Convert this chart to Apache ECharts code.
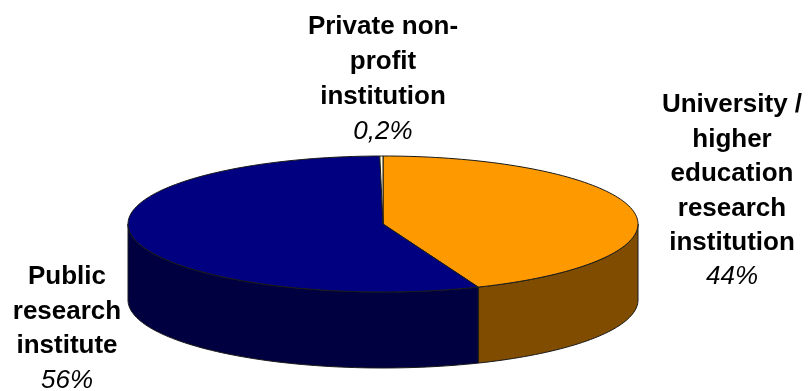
<!DOCTYPE html>
<html>
<head>
<meta charset="utf-8">
<script src="https://cdn.jsdelivr.net/npm/echarts@6/dist/echarts.min.js"></script>
<style>
  html, body { margin: 0; padding: 0; background: #ffffff; }
  #chart { width: 811px; height: 391px; }
</style>
</head>
<body>
<div id="chart"></div>
<script>
// Organisation types, in clockwise order starting at 12 o'clock
const categories = [
  'University / higher education research institution',
  'Public research institute',
  'Private non-profit institution'
];
// Label line breaks for each category
const categoryLines = [
  ['University /', 'higher', 'education', 'research', 'institution'],
  ['Public', 'research', 'institute'],
  ['Private non-', 'profit', 'institution']
];
// Shares in percent
const shares = [44, 56, 0.2];

const topColors = ['#FF9900', '#000080', '#FFFFE6'];
const sideColors = ['#7F4C00', '#000040', '#80807A'];

// Pie geometry (elliptical top face plus a wall of given depth)
const geo = { cx: 383, cy: 224, rx: 255, ry: 68, depth: 76 };

const total = shares.reduce((a, b) => a + b, 0);
const startDeg = [];
let acc = 0;
shares.forEach(v => { startDeg.push(acc / total * 360); acc += v; });

function pt(deg, dy) {
  const t = deg * Math.PI / 180;
  return [geo.cx + geo.rx * Math.sin(t), geo.cy - geo.ry * Math.cos(t) + (dy || 0)];
}
function arc(a0, a1, dy) {
  const pts = [];
  const n = Math.max(2, Math.ceil(Math.abs(a1 - a0) / 1.5));
  for (let k = 0; k <= n; k++) pts.push(pt(a0 + (a1 - a0) * k / n, dy));
  return pts;
}

function renderSlice(params, api) {
  const i = params.dataIndex;
  const a0 = startDeg[i];
  const a1 = a0 + api.value(0) / total * 360;
  const children = [];
  // Visible front wall: angles between 90° and 270° (lower half of the ellipse)
  const s = Math.max(a0, 90), e = Math.min(a1, 270);
  if (e > s) {
    const wall = arc(s, e, 0).concat(arc(e, s, geo.depth));
    children.push({
      type: 'polygon',
      z2: 1,
      shape: { points: wall },
      style: { fill: sideColors[i], stroke: '#1a1a1a', lineWidth: 1 }
    });
  }
  const top = [[geo.cx, geo.cy]].concat(arc(a0, a1, 0));
  children.push({
    type: 'polygon',
    z2: 10,
    shape: { points: top },
    style: { fill: topColors[i], stroke: '#1a1a1a', lineWidth: 1 }
  });
  return { type: 'group', children: children };
}

function labelText(i) {
  const pct = String(shares[i]).replace('.', ',') + '%';
  return categoryLines[i].map(l => '{n|' + l + '}').join('\n') + '\n{p|' + pct + '}';
}
function labelRich(lh) {
  return {
    n: { fontFamily: 'Liberation Sans, Arial, sans-serif', fontWeight: 'bold', fontSize: 26, lineHeight: lh, fill: '#000' },
    p: { fontFamily: 'Liberation Sans, Arial, sans-serif', fontStyle: 'italic', fontSize: 26, lineHeight: lh, fill: '#000' }
  };
}

// Label anchors: horizontal centre and top of the first line
const labelAnchors = [
  { x: 732, y: 88, lh: 34.4 },
  { x: 67, y: 260, lh: 34.4 },
  { x: 383, y: 9, lh: 35 }
];

const chart = echarts.init(document.getElementById('chart'), null, { renderer: 'canvas' });
chart.setOption({
  backgroundColor: '#ffffff',
  animation: false,
  series: [{
    type: 'custom',
    coordinateSystem: 'none',
    renderItem: renderSlice,
    data: shares.map((v, i) => ({ value: [v], name: categories[i] }))
  }],
  graphic: labelAnchors.map((a, i) => ({
    type: 'text',
    x: a.x,
    y: a.y,
    style: {
      text: labelText(i),
      align: 'center',
      verticalAlign: 'top',
      rich: labelRich(a.lh)
    }
  }))
});
</script>
</body>
</html>
